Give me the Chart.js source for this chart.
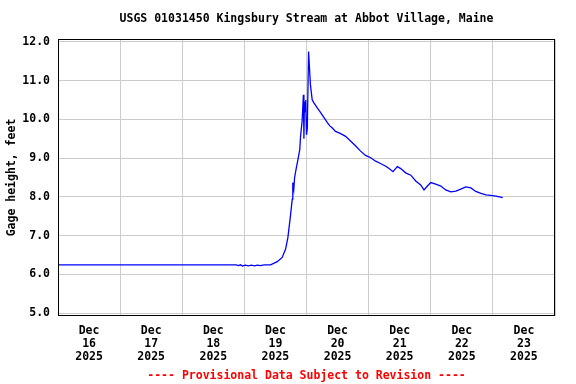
<!DOCTYPE html>
<html>
<head>
<meta charset="utf-8">
<script src="https://cdn.jsdelivr.net/npm/chart.js@4"></script>
<style>
  html, body { margin: 0; padding: 0; background: #fff; }
  #wrap { width: 576px; height: 384px; }
</style>
</head>
<body>
<div id="wrap"><canvas id="gageChart"></canvas></div>
<script>
// hours since Dec 16 2025 00:00
const hours = [0, 68.9, 69.7, 70.5, 71.2, 72.4, 73.5, 74.7, 75.9, 77.0, 78.2, 79.7, 82.1,
  84.7, 86.6, 87.9, 88.8, 89.8, 90.5, 90.7, 91.1, 91.4, 92.0, 92.6, 93.4, 93.7, 94.3,
  94.8, 95.0, 95.2, 95.5, 95.7, 96.0, 96.3, 96.8, 97.0, 97.5, 98.2, 98.8, 100.1, 101.4,
  102.7, 104.0, 105.0, 105.9, 107.2, 109.2, 111.1, 113.0, 115.0, 116.9, 118.8, 120.8,
  122.7, 124.6, 126.6, 127.9, 129.4, 131.1, 132.4, 134.3, 136.3, 138.2, 140.1, 141.4,
  142.7, 144.0, 145.9, 147.9, 149.8, 151.7, 153.7, 155.6, 157.5, 159.5, 161.4, 163.4,
  165.3, 167.2, 169.2, 171.8];
const gageHeight = [6.25, 6.25, 6.23, 6.25, 6.22, 6.24, 6.22, 6.24, 6.22, 6.24, 6.23, 6.25, 6.25,
  6.33, 6.44, 6.65, 6.95, 7.51, 7.94, 8.37, 8.2, 8.5, 8.72, 8.93, 9.22, 9.56, 9.95,
  10.63, 9.5, 10.45, 10.2, 10.5, 9.6, 9.75, 11.75, 11.5, 10.9, 10.5, 10.43, 10.3, 10.18,
  10.05, 9.92, 9.83, 9.78, 9.69, 9.63, 9.56, 9.44, 9.31, 9.18, 9.07, 9.01,
  8.92, 8.86, 8.79, 8.73, 8.65, 8.78, 8.73, 8.62, 8.56, 8.41, 8.31, 8.18,
  8.28, 8.37, 8.33, 8.28, 8.18, 8.13, 8.15, 8.20, 8.26, 8.23, 8.14, 8.09,
  8.05, 8.04, 8.02, 7.98];
const tickMonth = 'Dec';
const tickDays = ['16', '17', '18', '19', '20', '21', '22', '23'];
const tickYear = '2025';
const yTicks = [5, 6, 7, 8, 9, 10, 11, 12];

const font = { family: 'DejaVu Sans Mono', size: 11.5, weight: 'bold' };

// draw the black box round the plot area
const frame = {
  id: 'frame',
  afterDraw(chart) {
    const a = chart.chartArea, c = chart.ctx;
    c.save();
    c.strokeStyle = '#000';
    c.lineWidth = 1;
    c.strokeRect(Math.round(a.left) + 0.5, Math.round(a.top) + 0.5,
      Math.round(a.right - a.left) - 1, Math.round(a.bottom - a.top));
    c.restore();
  }
};

new Chart(document.getElementById('gageChart'), {
  type: 'line',
  data: {
    datasets: [{
      data: hours.map((h, i) => ({ x: h, y: gageHeight[i] })),
      borderColor: '#0000ff',
      borderWidth: 1.3,
      pointRadius: 0,
      tension: 0
    }]
  },
  options: {
    responsive: true,
    maintainAspectRatio: false,
    animation: false,
    layout: { padding: { left: 0, right: 21, top: 0, bottom: 0 } },
    plugins: {
      legend: { display: false },
      tooltip: { enabled: false },
      title: {
        display: true,
        text: 'USGS 01031450 Kingsbury Stream at Abbot Village, Maine',
        color: '#000',
        font: font,
        fullSize: false,
        padding: { top: 12.5, bottom: 13.1 }
      },
      subtitle: {
        display: true,
        position: 'bottom',
        text: '---- Provisional Data Subject to Revision ----',
        color: '#ff0000',
        font: font,
        fullSize: false,
        padding: { top: 0, bottom: 1.5 }
      }
    },
    scales: {
      x: {
        type: 'linear',
        min: 0,
        max: 192,
        afterBuildTicks: s => { s.ticks = tickDays.flatMap((d, i) => [{ value: i * 24 }, { value: i * 24 + 12 }]).concat([{ value: 192 }]); },
        afterFit: s => { s.height = 53.1; },
        border: { display: false },
        grid: {
          drawTicks: false,
          color: c => (c.tick && c.tick.value % 24 === 0) ? '#cccccc' : 'rgba(0,0,0,0)'
        },
        ticks: {
          autoSkip: false,
          maxRotation: 0,
          padding: 8.5,
          color: '#000',
          font: Object.assign({ lineHeight: 1.15 }, font),
          callback: v => v % 24 === 12 ? [tickMonth, tickDays[(v - 12) / 24], tickYear] : ''
        }
      },
      y: {
        min: 4.94,
        max: 12.06,
        afterBuildTicks: s => { s.ticks = yTicks.map(v => ({ value: v })); },
        afterFit: s => { s.width = 58; },
        border: { display: false },
        grid: { drawTicks: false, color: '#cccccc' },
        ticks: {
          padding: 8,
          color: '#000',
          font: font,
          callback: v => v.toFixed(1)
        },
        title: {
          display: true,
          text: 'Gage height, feet',
          color: '#000',
          font: font,
          padding: { top: 5, bottom: 0 }
        }
      }
    }
  },
  plugins: [frame]
});
</script>
</body>
</html>
